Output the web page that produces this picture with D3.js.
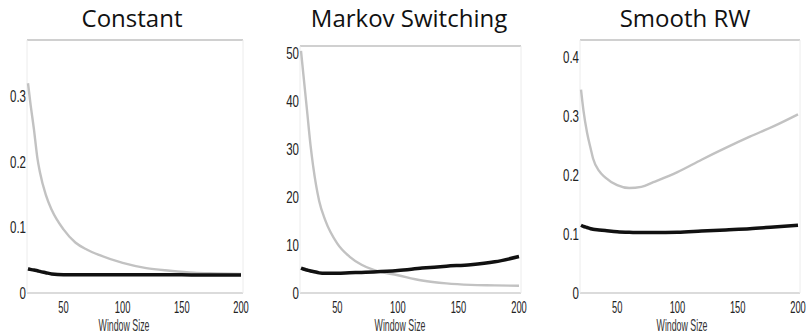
<!DOCTYPE html>
<html>
<head>
<meta charset="utf-8">
<script src="https://cdn.jsdelivr.net/npm/d3@7"></script>
<style>
  body { margin: 0; background: #fff; }
  svg { display: block; }
</style>
</head>
<body>
<svg id="chart" width="807" height="336"></svg>
<script>
// window sizes shared by all three panels
const windows = [20, 22, 25, 28, 30, 35, 40, 50, 60, 70, 80, 100, 120, 140, 160, 180, 200];

// Constant
const constantGray = [0.32, 0.29, 0.25, 0.205, 0.185, 0.15, 0.127, 0.097, 0.077, 0.066, 0.058, 0.046, 0.038, 0.034, 0.031, 0.030, 0.029];
const constantBlack = [0.037, 0.036, 0.035, 0.034, 0.033, 0.031, 0.029, 0.028, 0.028, 0.028, 0.028, 0.028, 0.028, 0.028, 0.0275, 0.0275, 0.0275];

// Markov Switching
const markovGray = [50.5, 45.5, 38, 30.5, 26.5, 19.2, 15.2, 10.3, 7.6, 5.9, 4.8, 3.7, 2.6, 2.0, 1.7, 1.6, 1.5];
const markovBlack = [5.2, 5.0, 4.8, 4.6, 4.5, 4.2, 4.1, 4.1, 4.2, 4.3, 4.4, 4.7, 5.2, 5.6, 5.9, 6.5, 7.6];

// Smooth RW
const smoothGray = [0.345, 0.31, 0.272, 0.245, 0.228, 0.207, 0.196, 0.183, 0.178, 0.180, 0.188, 0.205, 0.226, 0.246, 0.265, 0.283, 0.303];
const smoothBlack = [0.115, 0.113, 0.111, 0.109, 0.108, 0.107, 0.106, 0.104, 0.103, 0.1025, 0.1025, 0.103, 0.105, 0.107, 0.109, 0.112, 0.115];

const titles = ['Constant', 'Markov Switching', 'Smooth RW'];
const xTicks = [50, 100, 150, 200];
const constantTicks = [0, 0.1, 0.2, 0.3];
const markovTicks = [0, 10, 20, 30, 40, 50];
const smoothTicks = [0, 0.1, 0.2, 0.3, 0.4];
const yMax = [0.386, 51.5, 0.429];

const panels = [
  { title: titles[0], gray: constantGray, black: constantBlack, ticks: constantTicks, yMax: yMax[0],
    left: 28, right: 241, top: 40, titleX: 132, labelX: 124 },
  { title: titles[1], gray: markovGray, black: markovBlack, ticks: markovTicks, yMax: yMax[1],
    left: 301, right: 519, top: 46, titleX: 409, labelX: 400 },
  { title: titles[2], gray: smoothGray, black: smoothBlack, ticks: smoothTicks, yMax: yMax[2],
    left: 581, right: 798, top: 40, titleX: 685, labelX: 682 }
];
const bottom = 293;

const svg = d3.select('#chart');

panels.forEach((p) => {
  const x = d3.scaleLinear().domain([20, 200]).range([p.left, p.right]);
  const y = d3.scaleLinear().domain([0, p.yMax]).range([bottom, p.top]);

  const g = svg.append('g');

  // title
  g.append('text')
    .attr('x', p.titleX)
    .attr('y', 27)
    .attr('text-anchor', 'middle')
    .style('font-family', '"Open Sans", sans-serif')
    .style('font-size', '24px')
    .attr('fill', '#111')
    .text(p.title);

  // faint frame
  g.append('line')
    .attr('x1', x(20) - 1).attr('x2', x(200) + 2)
    .attr('y1', y(p.yMax)).attr('y2', y(p.yMax))
    .attr('stroke', '#d0d0d0').attr('stroke-width', 2);
  g.append('line')
    .attr('x1', x(20) - 1).attr('x2', x(200) + 2)
    .attr('y1', y(0)).attr('y2', y(0))
    .attr('stroke', '#cfcfcf').attr('stroke-width', 1.5);
  [x(20) - 1, x(200) + 2].forEach((xx) => {
    g.append('line')
      .attr('x1', xx).attr('x2', xx)
      .attr('y1', y(p.yMax)).attr('y2', y(0))
      .attr('stroke', '#ececec').attr('stroke-width', 1);
  });

  // x tick labels
  g.selectAll('.xt')
    .data(xTicks)
    .enter()
    .append('text')
    .attr('transform', (d) => 'translate(' + x(d) + ',' + (bottom + 20) + ') scale(0.55,1)')
    .attr('text-anchor', 'middle')
    .style('font-family', '"Liberation Sans", Arial, sans-serif')
    .style('font-size', '17px')
    .attr('fill', '#222')
    .text((d) => d);

  // y tick labels
  g.selectAll('.yt')
    .data(p.ticks)
    .enter()
    .append('text')
    .attr('transform', (d) => 'translate(' + (p.left - 2) + ',' + (y(d) + 6) + ') scale(0.72,1)')
    .attr('text-anchor', 'end')
    .style('font-family', '"Liberation Sans", Arial, sans-serif')
    .style('font-size', '16px')
    .attr('fill', '#222')
    .text((d) => d);

  // x axis label
  g.append('text')
    .attr('transform', 'translate(' + p.labelX + ',' + (bottom + 38) + ') scale(0.55,1)')
    .attr('text-anchor', 'middle')
    .style('font-family', '"Liberation Sans", Arial, sans-serif')
    .style('font-size', '16px')
    .attr('fill', '#333')
    .text('Window Size');

  const line = d3.line()
    .x((d, i) => x(windows[i]))
    .y((d) => y(d))
    .curve(d3.curveMonotoneX);

  g.append('path')
    .datum(p.gray)
    .attr('d', line)
    .attr('fill', 'none')
    .attr('stroke', '#c2c2c2')
    .attr('stroke-width', 2.4);

  g.append('path')
    .datum(p.black)
    .attr('d', line)
    .attr('fill', 'none')
    .attr('stroke', '#111')
    .attr('stroke-width', 3.5);
});
</script>
</body>
</html>
